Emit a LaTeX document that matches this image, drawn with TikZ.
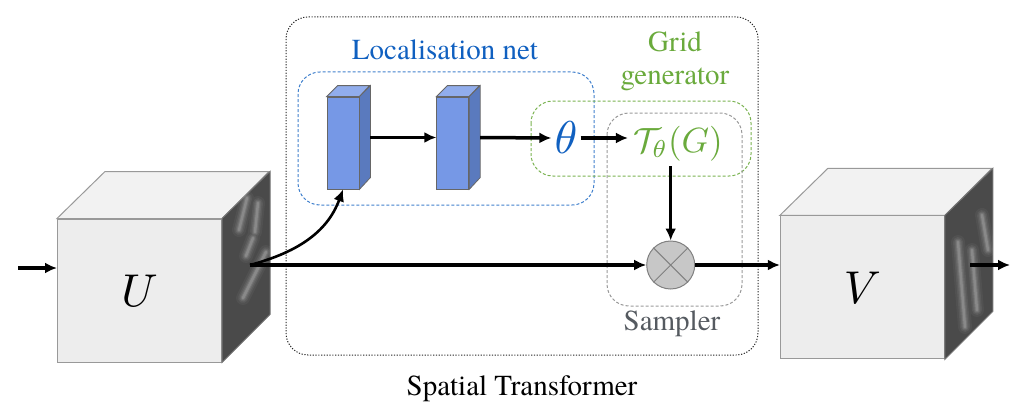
\documentclass[tikz,border=0pt]{standalone}
\usepackage{graphicx}
\usepackage{fontspec}
\setmainfont{TeX Gyre Termes}
\usetikzlibrary{arrows.meta,positioning}

\definecolor{locblue}{RGB}{16,96,192}
\definecolor{gridgreen}{RGB}{106,170,60}
\definecolor{samgray}{RGB}{85,90,96}
\definecolor{blkfront}{RGB}{118,152,230}
\definecolor{blktop}{RGB}{145,173,236}
\definecolor{blkside}{RGB}{90,122,190}

\newcommand{\bigmath}[2]{\scalebox{#1}{$#2$}}

\tikzset{
  cubefront/.style={draw=black!40, fill=black!7, line width=1pt, minimum width=164pt, minimum height=143pt, inner sep=0pt},
  cubetop/.style={draw=black!40, fill=black!5, line width=1pt},
  cubeside/.style={draw=black!55, fill=black!71, line width=1pt},
  blockfront/.style={draw=black!60, fill=blkfront, line width=0.8pt, minimum width=32pt, minimum height=92pt, inner sep=0pt},
  blocktop/.style={draw=black!60, fill=blktop, line width=0.8pt},
  blockside/.style={draw=black!60, fill=blkside, line width=0.8pt},
  lbl/.style={font=\fontsize{29}{33}\selectfont, align=center},
  arr/.style={-{Latex[length=12pt,width=11pt]}, line width=3.5pt},
  boxline/.style={line width=1pt, dash pattern=on 3pt off 2pt, rounded corners=22pt},
  glow/.style={white, line cap=round}
}

\begin{document}
\begin{tikzpicture}[x=1pt,y=-1pt]
\useasboundingbox (0,0) rectangle (1020,412);

% module boxes
\draw[black!85, line width=1pt, dash pattern=on 1.2pt off 1.6pt, rounded corners=22pt] (286,17) rectangle (758,355);
\draw[boxline, locblue!80] (298,72) rectangle (594,205);
\draw[boxline, gridgreen!90] (531,101) rectangle (751,176);
\draw[boxline, black!40] (607,113) rectangle (742,306);

% cubes
\node[cubefront] (U) at (139.5,290.5) {\bigmath{4.6}{U}};
\node[cubefront] (V) at (862.4,287.3) {\bigmath{4.6}{V}};
\foreach \c in {U,V}
{
	\filldraw[cubetop] (\c.north west) -- ++(48,-47) -- ++(164,0) -- (\c.north east) -- cycle;
	\filldraw[cubeside] (\c.north east) -- ++(48,-47) -- ++(0,143) -- (\c.south east) -- cycle;
}
\begin{scope}
	\clip (U.north east) -- ++(48,-47) -- ++(0,143) -- (U.south east) -- cycle;
	\foreach \w/\o in {14/0.04,10/0.06,7/0.08,4.5/0.1,2.5/0.14}
		\draw[glow, line width=\w pt, opacity=\o] (247,198) -- (239,230) (258,203) -- (255,232) (253,238) -- (246,256) (266,252) -- (243,298);
\end{scope}
\begin{scope}
	\clip (V.north east) -- ++(48,-47) -- ++(0,143) -- (V.south east) -- cycle;
	\foreach \w/\o in {14/0.04,10/0.06,7/0.08,4.5/0.1,2.5/0.14}
		\draw[glow, line width=\w pt, opacity=\o] (958,242) -- (965,327) (982,215) -- (988,250) (972,250) -- (977,310);
\end{scope}

% localisation net
\node[blockfront] (loc1) at (343,143) {};
\node[blockfront] (loc2) at (452.8,143) {};
\foreach \b in {loc1,loc2}
{
	\filldraw[blocktop] (\b.north west) -- ++(11,-11) -- ++(32,0) -- (\b.north east) -- cycle;
	\filldraw[blockside] (\b.north east) -- ++(11,-11) -- ++(0,92) -- (\b.south east) -- cycle;
}
\node[text=locblue, inner sep=3pt] (theta) at (566,138) {\bigmath{4.6}{\theta}};
\node[text=gridgreen, inner sep=5pt] (T) at (678,143.5) {\bigmath{3.5}{\mathcal{T}_\theta(G)}};
\node[circle, draw=black!50, fill=black!22, minimum size=48pt, inner sep=0pt, line width=1pt] (S) at (670.7,265) {};
\draw[black!50, line width=1pt] (S.45) -- (S.225) (S.135) -- (S.315);

% labels
\node[lbl, text=locblue] (loclbl) at (445,50) {Localisation net};
\node[lbl, text=gridgreen] (gridlbl) at (675,61.5) {Grid\\generator};
\node[lbl, text=samgray] (samlbl) at (672,324) {Sampler};
\node[lbl] (stlbl) at (522,389) {Spatial Transformer};

% connectors
\coordinate (in) at (18,268);
\coordinate (uout) at (250,265);
\coordinate (vout) at (970,265);
\coordinate (out) at (1010,265);
\draw[arr] (in) -- (in -| U.west);
\draw[arr] (uout) -- (S.west);
\draw[arr, line width=2.6pt] (uout) to[out=15,in=-110] (loc1.south);
\draw[arr] ([shift={(11,-5.5)}]loc1.east) -- ([shift={(0,-5.5)}]loc2.west);
\draw[arr] ([shift={(11,-5.5)}]loc2.east) -- (theta.west);
\draw[arr] (theta.east) -- (theta.east -| T.west);
\draw[arr] (S.north |- T.south) -- (S.north);
\draw[arr] (S.east) -- (S.east -| V.west);
\draw[arr] (vout) -- (out);
\end{tikzpicture}
\end{document}
